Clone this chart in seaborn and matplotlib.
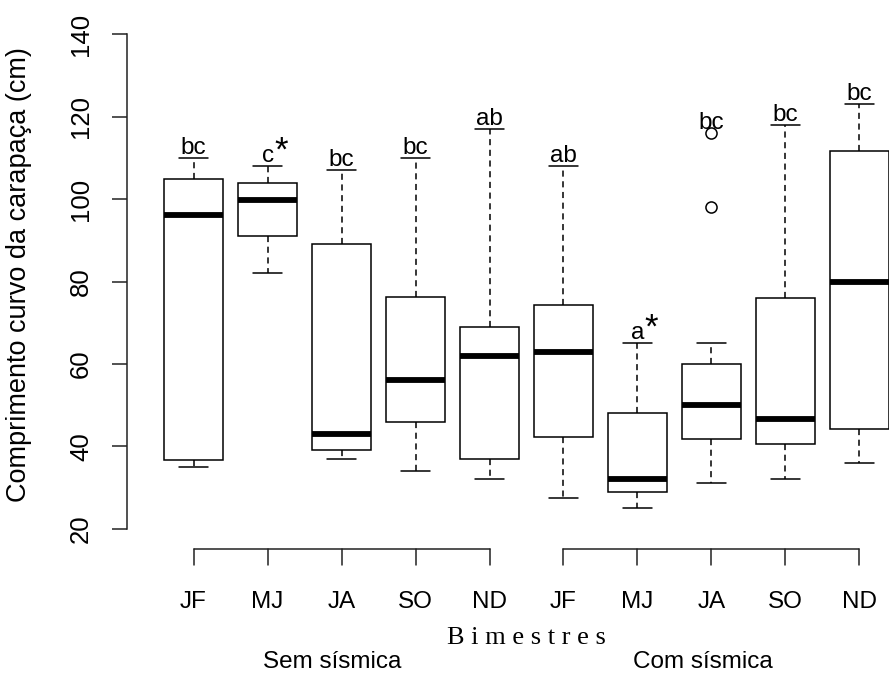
import pandas as pd
import seaborn as sns
import matplotlib.pyplot as plt

# Values (cm)
bimestres = ["JF", "MJ", "JA", "SO", "ND"]
grupos = ["Sem sísmica", "Com sísmica"]
whisker_low = [35, 82, 37, 34, 32, 27.5, 25, 31, 32, 36]
q1 = [36.7, 91, 39, 46, 37, 42.3, 29, 41.7, 40.5, 44.3]
mediana = [96.2, 99.8, 43, 56, 62, 63, 32, 50, 46.6, 80]
q3 = [105, 104, 89, 76.2, 69, 74.4, 48, 60, 76, 111.7]
whisker_high = [110, 108, 107, 110, 117, 108, 65, 65, 118, 123]
outliers = [[], [], [], [], [], [], [], [116, 98], [], []]
letras = ["bc", "c*", "bc", "bc", "ab", "ab", "a*", "bc", "bc", "bc"]

# Build a sample per box that reproduces the read five-number summary
keys = [f"{g} {b}" for g in grupos for b in bimestres]
rows = []
for i, k in enumerate(keys):
    amostra = ([whisker_low[i]] + [q1[i]] * 3 + [mediana[i]] * 3
               + [q3[i]] * 3 + [whisker_high[i]] + outliers[i])
    for v in amostra:
        rows.append({"grupo": k, "ccc": v})
data = pd.DataFrame(rows)

sns.set_style("white")
plt.rcParams['font.family'] = ['Liberation Sans', 'DejaVu Sans']
plt.rcParams['text.color'] = 'black'
plt.rcParams['axes.labelcolor'] = 'black'
plt.rcParams['ytick.color'] = 'black'

fig = plt.figure(figsize=(8.89, 6.84), dpi=100)
ax = fig.add_axes([127 / 889, (684 - 540) / 684, 799 / 889, 520 / 684])

sns.boxplot(data=data, x="grupo", y="ccc", order=keys, ax=ax,
            width=0.8, color="white", linecolor="black", linewidth=1.1,
            whis=1.6,
            medianprops=dict(linewidth=4.2, color="black"),
            whiskerprops=dict(linestyle=(0, (4, 3)), linewidth=1.1),
            capprops=dict(linewidth=1.1),
            flierprops=dict(marker="o", markersize=8, markerfacecolor="none",
                            markeredgecolor="black", markeredgewidth=1.1))

ax.set_xlim(-0.9, 9.9)
ax.set_ylim(17.26, 143.47)
for s in ["top", "right", "bottom"]:
    ax.spines[s].set_visible(False)
ax.spines["left"].set_bounds(20, 140)
ax.spines["left"].set_color("#222222")
ax.spines["left"].set_linewidth(1.1)
ax.set_yticks(range(20, 141, 20))
ax.tick_params(axis="y", left=True, length=10.5, width=1.1, color="#222222",
               labelsize=18.5, pad=14, labelrotation=90)
for lab in ax.get_yticklabels():
    lab.set_va("center")
ax.set_xticks([])
ax.set_xlabel("")
ax.set_ylabel("Comprimento curvo da carapaça (cm)", fontsize=19.5)
ax.yaxis.set_label_coords(-0.119, 0.51)

# letters above boxes
for i, lab in enumerate(letras):
    topo = max([whisker_high[i]] + outliers[i])
    base = lab.rstrip("*")
    ax.annotate(base, (i, topo), xytext=(0, 3), textcoords="offset points",
                ha="center", va="baseline", fontsize=17.5)
    if lab.endswith("*"):
        ax.annotate("*", (i, topo), xytext=(10, 11), textcoords="offset points",
                    ha="center", va="center", fontsize=25)

# grouped x axis (R style brackets)
trans = ax.get_xaxis_transform()
for g, nome in enumerate(grupos):
    pos = list(range(g * len(bimestres), (g + 1) * len(bimestres)))
    ax.plot([pos[0], pos[-1]], [-0.0173, -0.0173], transform=trans,
            clip_on=False, color="#222222", lw=1.1)
    for p, b in zip(pos, bimestres):
        ax.plot([p, p], [-0.0173, -0.048], transform=trans, clip_on=False,
                color="#222222", lw=1.1)
        ax.text(p, -0.119, b, transform=trans, ha="center", va="center",
                fontsize=17.5)
    ax.text(sum(pos) / len(pos) - 0.12, -0.235, nome, transform=trans,
            ha="center", va="center", fontsize=17.5)

ax.text((len(keys) - 1) / 2, -0.188, " ".join("Bimestres"), transform=trans,
        ha="center", va="center", fontsize=19, family="Liberation Serif")

fig.savefig("out.png", dpi=100)
